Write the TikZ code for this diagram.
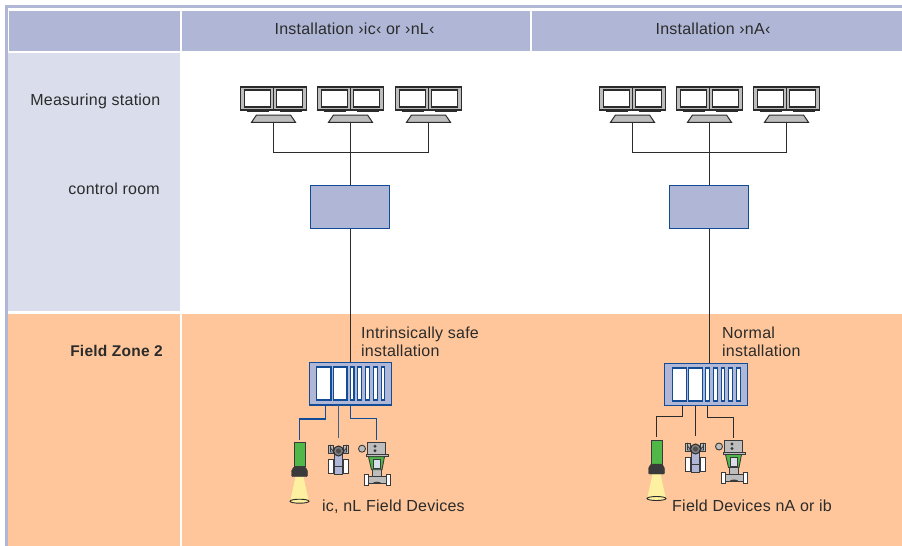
\documentclass[tikz,border=0pt]{standalone}
\usepackage{fontspec}
\setmainfont[LetterSpace=1.5]{Liberation Sans}
\definecolor{lav}{HTML}{B0B7D6}
\definecolor{lavlight}{HTML}{DADDEB}
\definecolor{orng}{HTML}{FEC69A}
\definecolor{edgeblue}{HTML}{124C96}
\definecolor{ink}{HTML}{2B2B2B}
\definecolor{devgray}{HTML}{BDBDBD}
\definecolor{dark}{HTML}{3A3A3A}
\definecolor{lampgreen}{HTML}{4FB848}
\definecolor{beam}{HTML}{FDF0A0}
\tikzset{
  lbl/.style={inner sep=0pt,text=ink,font=\fontsize{16}{18}\selectfont},
  cell/.style={fill=#1,draw=none},
  wire/.style={draw=#1,line width=1pt},
  wire/.default={ink},
  fieldwire/.style={draw=#1,line width=1.4pt},
  fieldwire/.default={ink},
  ctrlbox/.style={draw=edgeblue,fill=lav,line width=1pt,minimum width=79pt,minimum height=43pt,inner sep=0pt},
  rackbox/.style={draw=edgeblue,fill=lav,line width=1.1pt,minimum width=82.5pt,minimum height=42.5pt,inner sep=0pt},
  slot/.style={draw=edgeblue,fill=white,line width=1.1pt},
  outl/.style={draw=dark,line width=.9pt},
  pics/screen/.style={code={
    \filldraw[fill=devgray,draw=ink,line width=1.2pt] (-33,0) rectangle (0,23);
    \filldraw[fill=devgray,draw=ink,line width=1.2pt] (0,0) rectangle (33,23);
    \filldraw[fill=white,draw=ink,line width=1.2pt] (-29,3) rectangle (-3,20);
    \filldraw[fill=white,draw=ink,line width=1.2pt] (3,3) rectangle (29,20);
    \fill[ink] (-27,23) rectangle (-5,25);
    \fill[ink] (6,23) rectangle (28,25);
    \filldraw[fill=devgray,draw=ink,line width=1pt] (-17,28) -- (17,28) -- (22,35.3) -- (-22,35.3) -- cycle;
    \coordinate (-base) at (0,35.5);
  }},
  pics/lamp/.style={code={
    \coordinate (-top) at (0,-3);
    \filldraw[fill=lampgreen,draw=dark,line width=.9pt] (-5.5,0) rectangle (5.5,24);
    \fill[beam] (-4,34) -- (4,34) -- (9,57) -- (-9,57) -- cycle;
    \filldraw[fill=dark,draw=dark,rounded corners=1pt] (-5.5,24) -- (5.5,24) -- (8,28) -- (8,34) -- (-8,34) -- (-8,28) -- cycle;
    \filldraw[fill=beam,draw=ink,line width=.9pt] (0,58.5) ellipse (9.5 and 2);
  }},
  pics/transmitter/.style={code={
    \coordinate (-top) at (0,-13);
    \filldraw[fill=white,outl] (-10,8) rectangle (-5.5,22.5);
    \filldraw[fill=white,outl] (5,8) rectangle (9.5,22.5);
    \filldraw[fill=lav,outl] (-4.5,0) rectangle (4,23);
    \draw[outl] (-5.5,15) -- (5,15);
    \filldraw[fill=devgray,outl] (-10.5,-6) rectangle (-5.5,2);
    \filldraw[fill=devgray,outl] (5,-6) rectangle (10,2);
    \filldraw[fill=lav,outl] (-8,-4) arc[start angle=180,end angle=0,x radius=8,y radius=5] -- (8,1) -- (-8,1) -- cycle;
    \filldraw[fill=gray,draw=ink,line width=1pt] (0,0) circle (5);
    \fill[dark!70!gray] (0,0) circle (2.6);
  }},
  pics/valve/.style={code={
    \coordinate (-top) at (0,-3);
    \filldraw[fill=devgray,outl] (-14.5,6) circle (3.5);
    \filldraw[fill=devgray,outl] (-9.5,0) rectangle (8.5,12);
    \fill[dark] (-1.5,3.5) circle (1.6);
    \fill[dark] (-1.5,8) circle (1.6);
    \filldraw[fill=devgray,outl] (-10,11.5) rectangle (11.5,14);
    \filldraw[fill=devgray,outl] (-4,26) rectangle (4.5,41);
    \filldraw[fill=lampgreen,outl] (-8,14) -- (8,14) -- (5.5,27) -- (-5,27) -- cycle;
    \filldraw[fill=lavlight,outl] (-3,17) rectangle (3.5,26);
    \filldraw[fill=devgray,outl] (-8,34) rectangle (10,41);
    \filldraw[fill=white,outl] (-12,32) rectangle (-8.5,43);
    \filldraw[fill=white,outl] (10,32) rectangle (13.5,43);
    \fill[dark] (-4,41) arc[start angle=180,end angle=360,x radius=4.5,y radius=2] -- cycle;
  }},
  pics/rackslots/.style={code={
    \foreach \a/\b in {0/14.3,16.7/30.3,33.7/37.3,41/45,49/52.5,56.5/60.5,64.5/68}
      \filldraw[slot] (\a,0) rectangle (\b,33);
  }},
}
\begin{document}
\begin{tikzpicture}[x=1pt,y=-1pt]
\useasboundingbox (0,0) rectangle (902,546);
\fill[white] (0,0) rectangle (902,546);
% frame
\fill[lav] (5,5) rectangle (902,8);
\fill[lav] (5,5) rectangle (8,546);
% cells
\fill[cell=lav] (8.5,11) rectangle (179.5,50.5);
\fill[cell=lav] (182,11) rectangle (529.5,50.5);
\fill[cell=lav] (532,11) rectangle (902,50.5);
\fill[cell=lavlight] (8,53) rectangle (179.5,311);
\fill[cell=orng] (8,314) rectangle (179.5,546);
\fill[cell=orng] (182,314) rectangle (902,546);
% texts
\node[lbl,anchor=base] (hl) at (354.5,34) {Installation ›ic‹ or ›nL‹};
\node[lbl,anchor=base] (hr) at (713,34) {Installation ›nA‹};
\node[lbl,anchor=base east] (ms) at (160.5,105) {Measuring station};
\node[lbl,anchor=base east] (cr) at (160,194) {control room};
\node[lbl,anchor=base east,font=\fontsize{15.5}{18}\selectfont\bfseries] (fz) at (163,356) {Field Zone 2};
\node[lbl,anchor=base west] (t1) at (361,338) {Intrinsically safe};
\node[lbl,anchor=base west] (t2) at (361,356) {installation};
\node[lbl,anchor=base west] (t3) at (722,338) {Normal};
\node[lbl,anchor=base west] (t4) at (722,356) {installation};
\node[lbl,anchor=base west] (t5) at (322,511) {ic, nL Field Devices};
\node[lbl,anchor=base west] (t6) at (672,511) {Field Devices nA or ib};
% left column
\node[ctrlbox] (ctlL) at (349.5,206.5) {};
\node[rackbox] (rackL) at (350.3,383.7) {};
\pic at (316.7,367) {rackslots};
\pic (sL1) at (273.5,87) {screen};
\pic (sL2) at (350.5,87) {screen};
\pic (sL3) at (428.5,87) {screen};
\coordinate (busL) at (350.5,152.5);
\draw[wire] (sL1-base) |- (busL) -| (sL3-base);
\draw[wire] (sL2-base) -- (ctlL.north-|sL2-base);
\draw[wire] (ctlL.south-|sL2-base) -- (rackL.north-|sL2-base);
\pic (lampL) at (299.5,442.7) {lamp};
\pic (txL) at (338.5,451) {transmitter};
\pic (vL) at (376.5,442.7) {valve};
\coordinate (pL1) at (325.5,405);
\coordinate (pL2) at (338.5,405);
\coordinate (pL3) at (350.5,405);
\draw[fieldwire=edgeblue] (pL1) -- ++(0,14) -| (lampL-top);
\draw[fieldwire=edgeblue!60!gray] (pL2) -- (txL-top-|pL2);
\draw[fieldwire=edgeblue] (pL3) -- ++(0,13.5) -| (vL-top);
% right column
\node[ctrlbox] (ctlR) at (708.5,206.5) {};
\node[rackbox] (rackR) at (705.8,384.3) {};
\pic at (672.2,368) {rackslots};
\pic (sR1) at (632.5,87) {screen};
\pic (sR2) at (709.5,87) {screen};
\pic (sR3) at (786.5,87) {screen};
\coordinate (busR) at (709.5,152.5);
\draw[wire] (sR1-base) |- (busR) -| (sR3-base);
\draw[wire] (sR2-base) -- (ctlR.north-|sR2-base);
\draw[wire] (ctlR.south-|sR2-base) -- (rackR.north-|sR2-base);
\pic (lampR) at (656.5,440) {lamp};
\pic (txR) at (695.5,449) {transmitter};
\pic (vR) at (733.5,440.5) {valve};
\coordinate (pR1) at (682.5,405.5);
\coordinate (pR2) at (695.5,405.5);
\coordinate (pR3) at (707.5,405.5);
\draw[fieldwire] (pR1) -- ++(0,11) -| (lampR-top);
\draw[fieldwire] (pR2) -- (txR-top-|pR2);
\draw[fieldwire] (pR3) -- ++(0,12) -| (vR-top);
\end{tikzpicture}
\end{document}
